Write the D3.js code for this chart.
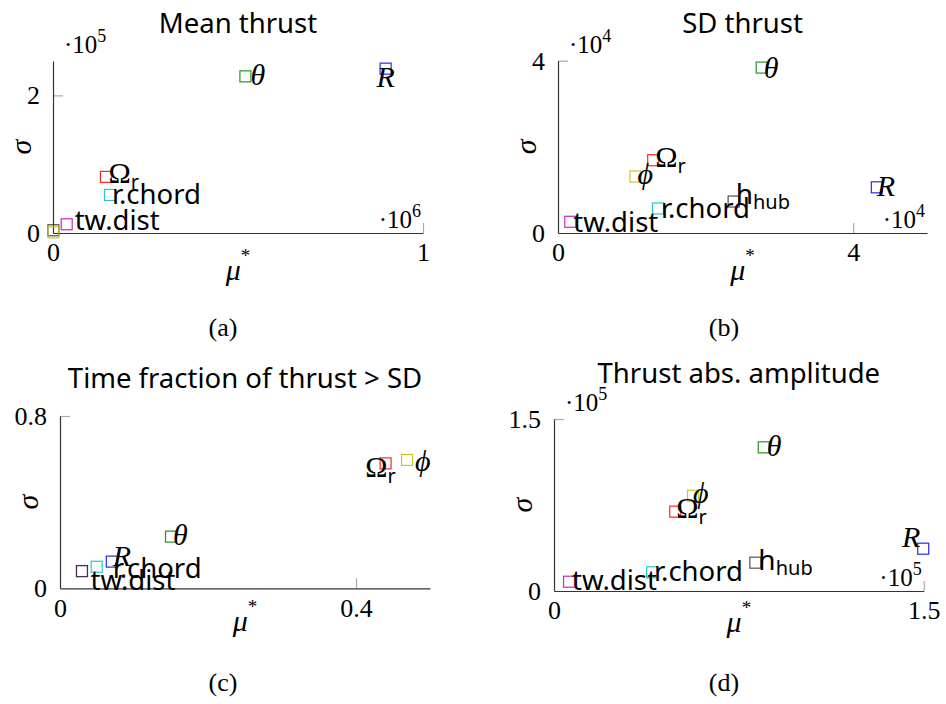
<!DOCTYPE html>
<html>
<head>
<meta charset="utf-8">
<script src="https://cdn.jsdelivr.net/npm/d3@7"></script>
<style>
  body { margin: 0; background: #fff; }
  svg { display: block; }
</style>
</head>
<body>
<svg id="chart" width="946" height="704"></svg>
<script>
// parameters, in drawing order
const params = ["tw.dist", "h_hub", "ϕ", "r.chord", "Ω_r", "θ", "R"]
const paramColors = ["#bf00bf", "#333333", "#bfbf00", "#00bfbf", "#ff0000", "#008000", "#0000ff"]

// (a) Mean thrust
const meanMu    = [37000, 1000, 1000, 154000, 143000, 520000, 899000]
const meanSigma = [12700, 4000, 1000, 55300, 81600, 227700, 238900]
// (b) SD thrust
const sdMu    = [1670, 23800, 10500, 13550, 12900, 27600, 43200]
const sdSigma = [2600, 7300, 13100, 5700, 16900, 38400, 10600]
// (c) Time fraction of thrust > SD
const fracMu    = [0.0297, 0.0297, 0.469, 0.0496, 0.440, 0.150, 0.070]
const fracSigma = [0.080, 0.080, 0.596, 0.100, 0.580, 0.240, 0.124]
// (d) Thrust abs. amplitude
const ampMu    = [6100, 81700, 56400, 39800, 49200, 85100, 149800]
const ampSigma = [8100, 24700, 83100, 16300, 69200, 125300, 36900]

const titles = ["Mean thrust", "SD thrust", "Time fraction of thrust > SD", "Thrust abs. amplitude"]
const captions = ["(a)", "(b)", "(c)", "(d)"]
const xMax = [1e6, 5e4, 0.5, 1.5e5]
const yMax = [2.5e5, 4e4, 0.8, 1.5e5]
const xTicks = [[0, 1e6], [0, 4e4], [0, 0.4], [0, 1.5e5]]
const yTicks = [[0, 2e5], [0, 4e4], [0, 0.8], [0, 1.5e5]]
const xExp = [6, 4, null, 5]
const yExp = [5, 4, null, 5]

const muData = [meanMu, sdMu, fracMu, ampMu]
const sigmaData = [meanSigma, sdSigma, fracSigma, ampSigma]

// layout of the four plots (pixels)
const frames = [
  { left: 53,  right: 423,   top: 61,    bottom: 233,   titleY: 33,  muY: 280, capX: 223, capY: 336 },
  { left: 558, right: 927,   top: 60.7,  bottom: 233,   titleY: 33,  muY: 280, capX: 724, capY: 336 },
  { left: 60,  right: 430,   top: 416,   bottom: 588.3, titleY: 388, muY: 631, capX: 223, capY: 691 },
  { left: 554, right: 923.7, top: 419,   bottom: 591,   titleY: 383, muY: 632, capX: 724, capY: 691 },
]

// label placement per plot: [text-anchor, dx, dy] in params order, null = no label
const labelPlace = [
  [["start", 8, 6], null, null, ["start", 2, 9.5], ["start", 2.5, 6], ["start", 5, 9], ["middle", 0, 18]],
  [["start", 3, 10], ["start", 2, 2], ["start", 2, 7], ["start", 3, 10], ["start", 2, 7], ["start", 2, 10.5], ["start", 0, 9]],
  [["start", 8.5, 19], null, ["start", 8, 11], ["start", 16, 11], ["middle", -5, 14], ["start", 2, 8], ["start", 1, 4]],
  [["start", 3, 8.5], ["start", 3, 7.5], ["start", 0, 7.5], ["start", 2, 9], ["start", 1, 6.6], ["start", 3, 9], ["end", -3, -2]],
]

const sans = "'Noto Sans', sans-serif"
const serif = "'Liberation Serif', serif"

const svg = d3.select('#chart')

function writeLabel(t, name) {
  if (name === "Ω_r") {
    t.append('tspan').attr('font-family', serif).attr('font-size', 30).text("Ω")
    t.append('tspan').attr('font-family', sans).attr('font-size', 20).attr('dy', 6).text("r")
  } else if (name === "h_hub") {
    t.append('tspan').attr('font-family', sans).attr('font-size', 28).text("h")
    t.append('tspan').attr('font-family', sans).attr('font-size', 20).attr('dy', 5).text("hub")
  } else if (["θ", "R", "ϕ"].includes(name)) {
    t.attr('font-family', serif).attr('font-style', 'italic').attr('font-size', 30).text(name)
  } else {
    t.attr('font-family', sans).attr('font-size', 27.5).text(name)
  }
}

function multiplier(g, x, y, exp, anchor) {
  const t = g.append('text')
    .attr('x', x).attr('y', y)
    .attr('text-anchor', anchor)
    .attr('font-family', serif)
    .attr('font-size', 25)
  t.append('tspan').text('·10')
  t.append('tspan').attr('font-size', 18).attr('dy', -11).text(exp)
}

function drawPlot(i) {
  const f = frames[i]
  const g = svg.append('g')

  const x = d3.scaleLinear().domain([0, xMax[i]]).range([f.left, f.right])
  const y = d3.scaleLinear().domain([0, yMax[i]]).range([f.bottom, f.top])

  const xDiv = xExp[i] ? Math.pow(10, xExp[i]) : 1
  const yDiv = yExp[i] ? Math.pow(10, yExp[i]) : 1

  const xAxis = d3.axisBottom(x)
    .tickValues(xTicks[i])
    .tickSize(-10)
    .tickSizeOuter(0)
    .tickPadding(10)
    .tickFormat(d => d3.format('~g')(d / xDiv))

  const yAxis = d3.axisLeft(y)
    .tickValues(yTicks[i])
    .tickSize(-10)
    .tickSizeOuter(0)
    .tickPadding(13)
    .tickFormat(d => d3.format('~g')(d / yDiv))

  const xg = g.append('g')
    .attr('transform', `translate(0,${f.bottom})`)
    .call(xAxis)
  const yg = g.append('g')
    .attr('transform', `translate(${f.left},0)`)
    .call(yAxis)

  for (const ax of [xg, yg]) {
    ax.attr('font-family', serif).attr('font-size', 26)
    ax.select('.domain').attr('stroke', '#333').attr('stroke-width', 1.2)
    ax.selectAll('.tick line')
      .attr('stroke', '#aaa')
      .attr('stroke-width', 1.2)
      .attr('display', d => d === 0 ? 'none' : null)
    ax.selectAll('.tick text').attr('fill', '#000')
  }
  // keep the axis lines above the ticks
  xg.select('.domain').raise()
  yg.select('.domain').raise()

  if (xExp[i]) multiplier(g, f.right - 2, f.bottom - 5, xExp[i], 'end')
  if (yExp[i]) multiplier(g, f.left + 11, f.top - 8, yExp[i], 'start')

  // title
  g.append('text')
    .attr('x', (f.left + f.right) / 2)
    .attr('y', f.titleY)
    .attr('text-anchor', 'middle')
    .attr('font-family', sans)
    .attr('font-size', 27.5)
    .text(titles[i])

  // axis labels
  g.append('text')
    .attr('transform', `translate(${f.left - 22},${(f.top + f.bottom) / 2}) rotate(-90)`)
    .attr('text-anchor', 'middle')
    .attr('font-family', serif)
    .attr('font-style', 'italic')
    .attr('font-size', 30)
    .text('σ')

  const mu = g.append('text')
    .attr('x', (f.left + f.right) / 2)
    .attr('y', f.muY)
    .attr('text-anchor', 'middle')
    .attr('font-family', serif)
    .attr('font-style', 'italic')
    .attr('font-size', 30)
  mu.append('tspan').text('μ')
  mu.append('tspan').attr('font-style', 'normal').attr('font-size', 19).attr('dy', -18).text('*')

  // caption
  g.append('text')
    .attr('x', f.capX)
    .attr('y', f.capY)
    .attr('text-anchor', 'middle')
    .attr('font-family', serif)
    .attr('font-size', 26)
    .text(captions[i])

  const pts = params.map((p, k) => ({ name: p, color: paramColors[k], mu: muData[i][k], sigma: sigmaData[i][k], place: labelPlace[i][k] }))

  g.append('g')
    .selectAll('rect')
    .data(pts)
    .join('rect')
      .attr('x', d => x(d.mu) - 5.5)
      .attr('y', d => y(d.sigma) - 5.5)
      .attr('width', 11)
      .attr('height', 11)
      .attr('fill', 'none')
      .attr('stroke', d => d.color)
      .attr('stroke-opacity', 0.85)
      .attr('stroke-width', 1.2)

  g.append('g')
    .selectAll('text')
    .data(pts.filter(d => d.place))
    .join('text')
      .attr('x', d => x(d.mu) + d.place[1])
      .attr('y', d => y(d.sigma) + d.place[2])
      .attr('text-anchor', d => d.place[0])
      .attr('fill', '#000')
      .each(function(d) { writeLabel(d3.select(this), d.name) })
}

for (let i = 0; i < 4; i++) drawPlot(i)
</script>
</body>
</html>
